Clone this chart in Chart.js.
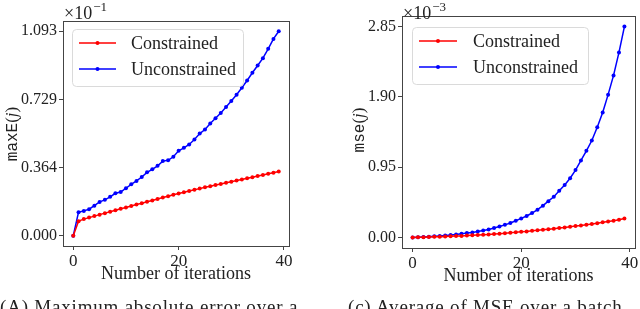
<!DOCTYPE html>
<html>
<head>
<meta charset="utf-8">
<script src="https://cdn.jsdelivr.net/npm/chart.js@4/dist/chart.umd.min.js"></script>
<style>
  html, body { margin: 0; padding: 0; background: #fff; }
  #wrap { position: relative; width: 640px; height: 309px; overflow: hidden; }
  canvas { position: absolute; top: 0; }
  .cap { position: absolute; top: 297px; font: 19px/19px "Liberation Serif", serif; color: #222; white-space: nowrap; letter-spacing: 0.8px; }
</style>
</head>
<body>
<div id="wrap">
  <canvas id="left" width="320" height="309" style="left:0"></canvas>
  <canvas id="right" width="320" height="309" style="left:320px"></canvas>
  <div class="cap" style="left:0">(A) Maximum absolute error over a</div>
  <div class="cap" style="left:348px">(c) Average of MSE over a batch</div>
</div>
<script>
// iterations shared by both panels
const iterations = [0, 1, 2, 3, 4, 5, 6, 7, 8, 9, 10, 11, 12, 13, 14, 15, 16, 17, 18, 19,
    20, 21, 22, 23, 24, 25, 26, 27, 28, 29, 30, 31, 32, 33, 34, 35, 36, 37, 38, 39];

// panel A: max absolute error (x10^-1)
const maxeConstrained = [0.000, 0.078, 0.089, 0.097, 0.105, 0.113, 0.121, 0.128, 0.136, 0.144,
    0.151, 0.159, 0.167, 0.174, 0.182, 0.189, 0.197, 0.204, 0.211, 0.219,
    0.226, 0.233, 0.239, 0.246, 0.252, 0.259, 0.265, 0.271, 0.277, 0.283,
    0.289, 0.295, 0.301, 0.307, 0.313, 0.319, 0.325, 0.331, 0.337, 0.343];
const maxeUnconstrained = [0.000, 0.126, 0.133, 0.142, 0.161, 0.181, 0.192, 0.208, 0.227, 0.234,
    0.254, 0.275, 0.293, 0.314, 0.339, 0.355, 0.374, 0.399, 0.403, 0.422,
    0.454, 0.470, 0.488, 0.514, 0.546, 0.568, 0.600, 0.628, 0.656, 0.688,
    0.720, 0.754, 0.791, 0.830, 0.871, 0.910, 0.949, 0.999, 1.052, 1.093];
const maxeTicks = [0, 0.3643, 0.7287, 1.093];
const maxeTickLabels = ['0.000', '0.364', '0.729', '1.093'];

// panel C: mse (x10^-3)
const mseConstrained = [0.000, 0.002, 0.004, 0.006, 0.008, 0.010, 0.012, 0.015, 0.018, 0.021,
    0.025, 0.029, 0.033, 0.037, 0.041, 0.046, 0.051, 0.057, 0.063, 0.069,
    0.076, 0.082, 0.089, 0.096, 0.103, 0.111, 0.119, 0.127, 0.136, 0.145,
    0.154, 0.163, 0.173, 0.183, 0.193, 0.204, 0.215, 0.226, 0.240, 0.257];
const mseUnconstrained = [0.000, 0.003, 0.007, 0.011, 0.016, 0.021, 0.027, 0.034, 0.041, 0.050,
    0.059, 0.068, 0.080, 0.093, 0.108, 0.128, 0.147, 0.170, 0.195, 0.225,
    0.257, 0.290, 0.330, 0.375, 0.430, 0.490, 0.550, 0.630, 0.710, 0.800,
    0.910, 1.040, 1.170, 1.310, 1.490, 1.690, 1.930, 2.190, 2.500, 2.850];
const mseTicks = [0, 0.95, 1.90, 2.85];
const mseTickLabels = ['0.00', '0.95', '1.90', '2.85'];

const xTicks = [0, 20, 40];
const seriesNames = ['Constrained', 'Unconstrained'];
const seriesColors = ['#ff0000', '#0000ff'];

const SERIF = '"Liberation Serif", serif';
const MONO = '"Liberation Mono", monospace';
const AXIS = '#444';

const pts = ys => iterations.map((x, i) => ({ x, y: ys[i] }));

// frame round the plot area
const frame = {
    id: 'frame',
    afterDraw(chart) {
        const { left, top, right, bottom } = chart.chartArea;
        const ctx = chart.ctx;
        ctx.save();
        ctx.strokeStyle = AXIS;
        ctx.lineWidth = 1;
        ctx.strokeRect(Math.round(left) + 0.5, Math.round(top) + 0.5,
            Math.round(right - left), Math.round(bottom - top));
        ctx.restore();
    }
};

// matplotlib style legend inside the axes
const boxLegend = {
    id: 'boxLegend',
    afterDraw(chart, args, o) {
        const ctx = chart.ctx;
        ctx.save();
        ctx.fillStyle = 'rgba(255,255,255,0.8)';
        ctx.strokeStyle = '#dadada';
        ctx.lineWidth = 1;
        ctx.beginPath();
        ctx.roundRect(o.x + 0.5, o.y + 0.5, o.w, o.h, 4);
        ctx.fill();
        ctx.stroke();
        chart.data.datasets.forEach((ds, i) => {
            const y = o.rows[i];
            ctx.strokeStyle = ds.borderColor;
            ctx.lineWidth = 1.5;
            ctx.beginPath();
            ctx.moveTo(o.x0, y);
            ctx.lineTo(o.x1, y);
            ctx.stroke();
            ctx.fillStyle = ds.borderColor;
            ctx.beginPath();
            ctx.arc((o.x0 + o.x1) / 2, y, 2, 0, Math.PI * 2);
            ctx.fill();
            ctx.fillStyle = '#222';
            ctx.font = '18px ' + SERIF;
            ctx.textBaseline = 'middle';
            ctx.fillText(ds.label, o.tx, y + 1);
        });
        ctx.restore();
    }
};

// y title with mixed fonts, and the x10^n offset text
const labels = {
    id: 'labels',
    afterDraw(chart, args, o) {
        const ctx = chart.ctx;
        ctx.save();
        ctx.fillStyle = '#222';
        // rotated y title
        const parts = [
            [o.mono, '16px ' + MONO],
            ['(', '17px ' + SERIF],
            ['j', 'italic 17px ' + SERIF],
            [')', '17px ' + SERIF]
        ];
        let total = 0;
        parts.forEach(p => { ctx.font = p[1]; total += ctx.measureText(p[0]).width; });
        ctx.translate(o.tx, o.ty);
        ctx.rotate(-Math.PI / 2);
        ctx.textBaseline = 'middle';
        let cx = -total / 2;
        parts.forEach(p => {
            ctx.font = p[1];
            ctx.fillText(p[0], cx, 0);
            cx += ctx.measureText(p[0]).width;
        });
        ctx.setTransform(1, 0, 0, 1, 0, 0);
        // offset text
        ctx.textBaseline = 'alphabetic';
        ctx.font = '18px ' + SERIF;
        ctx.fillText('\u00d710', o.ex, 19);
        const w = ctx.measureText('\u00d710').width;
        ctx.font = '13px ' + SERIF;
        ctx.fillText('\u2212' + o.exp, o.ex + w + 1, 11);
        ctx.restore();
    }
};

function makeChart(id, cons, uncons, yMin, yMax, yTicks, yTickLabels, area, legend, lab) {
    new Chart(document.getElementById(id).getContext('2d'), {
        type: 'line',
        data: {
            datasets: [cons, uncons].map((ys, i) => ({
                label: seriesNames[i],
                data: pts(ys),
                borderColor: seriesColors[i],
                backgroundColor: seriesColors[i],
                borderWidth: 1.5,
                pointRadius: 2,
                pointBorderWidth: 0,
                tension: 0
            }))
        },
        options: {
            responsive: false,
            animation: false,
            devicePixelRatio: 1,
            layout: { padding: { top: area.top, right: area.right, bottom: area.bottom, left: 0 } },
            plugins: {
                legend: { display: false },
                tooltip: { enabled: false },
                boxLegend: legend,
                labels: lab
            },
            scales: {
                x: {
                    type: 'linear',
                    min: -1.95,
                    max: 40.95,
                    afterFit: s => { s.height = 40; },
                    afterBuildTicks: s => { s.ticks = xTicks.map(v => ({ value: v })); },
                    grid: { drawOnChartArea: false, drawTicks: true, tickLength: 4, color: AXIS },
                    border: { display: true, color: AXIS },
                    ticks: {
                        color: '#222',
                        padding: 1,
                        maxRotation: 0,
                        font: { family: SERIF, size: 17 },
                        callback: v => String(v)
                    },
                    title: {
                        display: true,
                        text: 'Number of iterations',
                        color: '#222',
                        font: { family: SERIF, size: 18 },
                        padding: { top: 0, bottom: 1 }
                    }
                },
                y: {
                    type: 'linear',
                    min: yMin,
                    max: yMax,
                    afterFit: s => { s.width = area.left; },
                    afterBuildTicks: s => { s.ticks = yTicks.map(v => ({ value: v })); },
                    grid: { drawOnChartArea: false, drawTicks: true, tickLength: 4, color: AXIS },
                    border: { display: true, color: AXIS },
                    ticks: {
                        color: '#222',
                        padding: 2,
                        font: { family: SERIF, size: 16 },
                        callback: (v, i) => yTickLabels[i]
                    }
                }
            }
        },
        plugins: [frame, boxLegend, labels]
    });
}

makeChart('left', maxeConstrained, maxeUnconstrained, -0.05465, 1.14765, maxeTicks, maxeTickLabels,
    { left: 63, top: 21, right: 31, bottom: 23 },
    { x: 72, y: 29, w: 171, h: 57, rows: [43, 69], x0: 79, x1: 116, tx: 131 },
    { mono: 'maxE', tx: 13, ty: 134, ex: 64, exp: '1' });

makeChart('right', mseConstrained, mseUnconstrained, -0.1425, 2.9925, mseTicks, mseTickLabels,
    { left: 82, top: 16, right: 5, bottom: 21 },
    { x: 92, y: 27, w: 176, h: 57, rows: [41, 67], x0: 99, x1: 137, tx: 153 },
    { mono: 'mse', tx: 40, ty: 130, ex: 83, exp: '3' });
</script>
</body>
</html>
